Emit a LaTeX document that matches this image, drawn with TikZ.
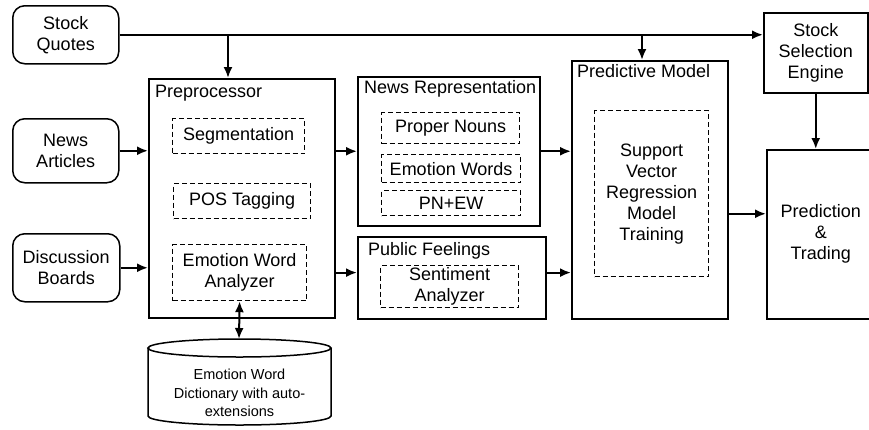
\documentclass[tikz,border=0pt]{standalone}
\usepackage{fontspec}
\setmainfont{Liberation Sans}
\usetikzlibrary{arrows.meta,calc}
\begin{document}
\begin{tikzpicture}[x=1pt,y=-1pt,
  font=\fontsize{18}{21}\selectfont,
  solidbox/.style={draw,line width=1.5pt,anchor=north west,inner sep=0pt,align=center},
  srcbox/.style={solidbox,rounded corners=12pt},
  dbox/.style={draw,line width=1.2pt,dash pattern=on 5pt off 3pt,anchor=north west,inner sep=0pt,align=center},
  ttl/.style={anchor=base west,inner sep=0pt},
  arr/.style={line width=2pt,-{Latex[length=11pt,width=9pt]}},
  darr/.style={line width=2pt,{Latex[length=11pt,width=9pt]}-{Latex[length=11pt,width=9pt]}}
]
\useasboundingbox (0,0) rectangle (869,429);
% sources
\node[srcbox,minimum width=106pt,minimum height=58pt] (sq) at (12,5) {Stock\\Quotes};
\node[srcbox,minimum width=106pt,minimum height=64pt] (na) at (12,118) {News\\Articles};
\node[srcbox,minimum width=107pt,minimum height=68pt] (db) at (12,233) {Discussion\\Boards};
% preprocessor
\node[solidbox,minimum width=186pt,minimum height=239pt] (pp) at (148,78) {};
\node[ttl] (ppl) at (155,97) {Preprocessor};
\node[dbox,minimum width=132pt,minimum height=35pt] (seg) at (172,118) {Segmentation};
\node[dbox,minimum width=137pt,minimum height=35pt] (pos) at (173,183) {POS Tagging};
\node[dbox,minimum width=134pt,minimum height=56pt] (ewa) at (172,244) {Emotion Word\\Analyzer};
% news representation
\node[solidbox,minimum width=182pt,minimum height=149pt] (nr) at (357,76) {};
\node[ttl] (nrl) at (364,93) {News Representation};
\node[dbox,minimum width=138pt,minimum height=31pt] (pn) at (381,112) {Proper Nouns};
\node[dbox,minimum width=139pt,minimum height=28pt] (ew) at (381,154) {Emotion Words};
\node[dbox,minimum width=139pt,minimum height=25pt] (pnew) at (381,190) {PN+EW};
% public feelings
\node[solidbox,minimum width=188pt,minimum height=82pt] (pf) at (357,236) {};
\node[ttl] (pfl) at (368,255) {Public Feelings};
\node[dbox,minimum width=138pt,minimum height=42pt] (sa) at (380,265) {Sentiment\\Analyzer};
% predictive model
\node[solidbox,minimum width=156pt,minimum height=258pt] (pm) at (571,60) {};
\node[ttl] (pml) at (577,77) {Predictive Model};
\node[dbox,minimum width=114pt,minimum height=166pt] (svr) at (594,110) {Support\\Vector\\Regression\\Model\\Training};
% right side
\node[solidbox,minimum width=104pt,minimum height=80pt] (sse) at (763,12) {Stock\\Selection\\Engine};
\node[solidbox,minimum width=108pt,minimum height=169pt] (pt) at (766,149) {Prediction\\\&\\Trading};
% dictionary cylinder
\draw[line width=1.5pt] (239.5,348) ellipse [x radius=91.5pt,y radius=9pt];
\draw[line width=1.5pt] (148,348) -- (148,416) arc[start angle=180,end angle=360,x radius=91.5pt,y radius=9pt] -- (331,348);
\node[font=\fontsize{14.5}{18.5}\selectfont,align=center] (dict) at (239.5,393) {Emotion Word\\Dictionary with auto-\\extensions};
\coordinate (dtop) at (239,339);
% connectors
\coordinate (j1) at (228,34);
\coordinate (j2) at (642,34);
\draw[arr] (sq.east) -- (sq.east -| sse.west);
\draw[arr] (j1) -- (j1 |- pp.north);
\draw[arr] (j2) -- (j2 |- pm.north);
\draw[arr] (na.east) -- (na.east -| pp.west);
\draw[arr] (db.east) -- (db.east -| pp.west);
\draw[arr] (nr.west -| pp.east) -- (nr.west);
\draw[arr] (ewa -| pp.east) -- (ewa -| pf.west);
\draw[arr] (nr.east) -- (nr.east -| pm.west);
\draw[arr] (ewa -| pf.east) -- (ewa -| pm.west);
\coordinate (pmout) at ([yshift=-24pt]pm.east);
\draw[arr] (pmout) -- (pmout -| pt.west);
\draw[arr] (sse.south) -- (sse.south |- pt.north);
\draw[darr] (ewa.south) -- (dtop);
\end{tikzpicture}
\end{document}
